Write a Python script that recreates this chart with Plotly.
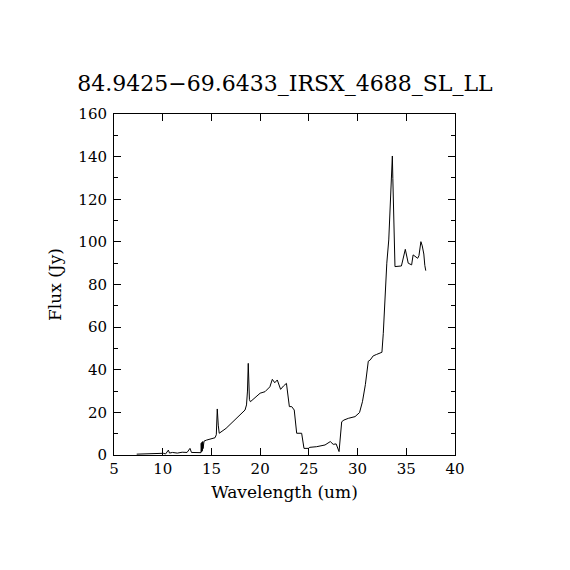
import plotly.graph_objects as go

wavelength = [7.33, 8.0, 9.0, 9.8, 10.06, 10.3, 10.58, 10.7, 11.0, 11.5, 12.0, 12.5, 12.8, 12.95,
              13.2, 13.6, 13.93, 13.95, 14.0, 14.03, 14.07, 14.1, 14.14, 14.18, 14.24, 14.5, 15.0,
              15.37, 15.5, 15.6, 15.7, 15.8, 16.5, 17.5, 18.45, 18.6, 18.7, 18.78, 18.9, 19.0,
              19.5, 20.0, 20.5, 20.8, 21.0, 21.25, 21.5, 21.76, 22.1, 22.4, 22.7, 23.0, 23.24,
              23.5, 23.75, 24.26, 24.5, 24.95, 25.1, 25.8, 26.66, 27.2, 27.5, 27.8, 28.1, 28.37,
              28.6, 29.05, 29.74, 30.2, 30.5, 30.8, 31.1, 31.3, 31.6, 31.96, 32.5, 32.64, 32.8,
              33.0, 33.2, 33.33, 33.45, 33.57, 33.62, 33.7, 33.84, 34.5, 34.7, 34.9, 35.2, 35.4,
              35.55, 35.7, 36.0, 36.17, 36.3, 36.5, 36.64, 36.8, 36.9, 37.0]
flux = [0.4, 0.5, 0.4, 0.6, 0.8, 0.5, 2.3, 0.9, 1.2, 0.9, 1.3, 1.2, 3.1, 1.2,
        1.1, 1.2, 1.1, 5.5, 1.5, 6.0, 2.0, 6.3, 3.0, 6.5, 6.5, 7.0, 7.5,
        8.1, 9.5, 21.6, 14.0, 10.2, 12.5, 17.0, 21.1, 23.5, 30.0, 43.0, 26.0, 25.0,
        27.0, 29.0, 29.7, 31.3, 32.0, 35.5, 33.9, 35.2, 30.8, 32.4, 33.6, 22.7, 22.7,
        21.1, 10.2, 10.2, 3.1, 3.1, 3.6, 3.9, 4.7, 6.3, 5.0, 5.2, 1.6, 15.6,
        16.4, 17.2, 18.0, 19.9, 25.0, 33.0, 44.0, 44.6, 46.5, 47.2, 48.2, 57.1, 74.3,
        90.0, 100.9, 113.4, 131.4, 140.3, 129.8, 113.0, 88.4, 88.7, 92.3, 96.5, 90.0, 89.5,
        89.2, 93.9, 93.0, 92.3, 93.5, 100.1, 98.1, 94.3, 89.0, 86.5]

title_text = "84.9425\u221269.6433_IRSX_4688_SL_LL"
font_family = "DejaVu Serif"

fig = go.Figure()
fig.add_trace(go.Scatter(x=wavelength, y=flux, mode="lines",
                         line=dict(color="black", width=1), showlegend=False))

axis_common = dict(showline=True, linecolor="black", linewidth=1, mirror="ticks",
                   ticks="inside", tickcolor="black", ticklen=7, tickwidth=1,
                   showgrid=False, zeroline=False,
                   tickfont=dict(family=font_family, size=15, color="black"))

fig.update_xaxes(range=[5, 40], tickvals=[5, 10, 15, 20, 25, 30, 35, 40],
                 title=dict(text="Wavelength (um)", font=dict(family=font_family, size=17, color="black"), standoff=9),
                 **axis_common)
fig.update_yaxes(range=[0, 160], tickvals=[0, 20, 40, 60, 80, 100, 120, 140, 160],
                 ticklabelstandoff=3,
                 minor=dict(tickvals=[10, 30, 50, 70, 90, 110, 130, 150], ticklen=4,
                            ticks="inside", tickcolor="black", tickwidth=1),
                 title=dict(text="Flux (Jy)", font=dict(family=font_family, size=17, color="black"), standoff=12),
                 **axis_common)

fig.update_layout(
    width=570, height=570,
    margin=dict(l=106, r=123, t=106, b=123),
    paper_bgcolor="white", plot_bgcolor="white",
    title=dict(text=title_text, x=(285 - 8) / 570, xanchor="center", y=1 - 75 / 570, yanchor="middle",
               font=dict(family=font_family, size=22, color="black")),
)

fig.write_html("out.html")
